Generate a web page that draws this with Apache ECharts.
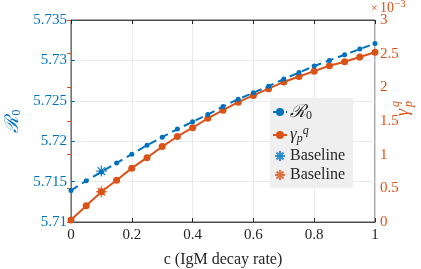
<!DOCTYPE html>
<html><head><meta charset="utf-8">
<script src="https://cdn.jsdelivr.net/npm/echarts@6/dist/echarts.min.js"></script>
<style>html,body{margin:0;padding:0;background:#fff}#c{width:421px;height:269px}</style>
</head><body><div id="c"></div>
<script>
var cValues = [0,0.05,0.1,0.15,0.2,0.25,0.3,0.35,0.4,0.45,0.5,0.55,0.6,0.65,0.7,0.75,0.8,0.85,0.9,0.95,1.0];
var r0Values = [5.7139,5.7151,5.7162,5.7173,5.7184,5.7195,5.7205,5.7215,5.7224,5.7233,5.7243,5.7252,5.7260,5.7268,5.7277,5.7285,5.7293,5.7300,5.7307,5.7314,5.7321];
// gamma_p^q in units of 1e-3
var gammaValues = [0.03,0.24,0.45,0.62,0.80,0.955,1.12,1.27,1.40,1.54,1.66,1.78,1.88,1.98,2.08,2.16,2.24,2.32,2.38,2.45,2.52];
var baselineC = 0.1;
var baselineR0 = 5.7163;
var baselineGamma = 0.45;
var xTicks = ['0','0.2','0.4','0.6','0.8','1'];
var leftTicks = ['5.71','5.715','5.72','5.725','5.73','5.735'];
var rightTicks = ['0','0.5','1','1.5','2','2.5','3'];

var BLUE = '#0072BD', ORANGE = '#D95319', DARK = '#262626';
var FONT = 'Liberation Serif';
var star = 'path://M0,-10L0,10M-10,0L10,0M-7,-7L7,7M-7,7L7,-7';

function zip(a,b){return a.map(function(v,i){return [v,b[i]];});}

var chart = echarts.init(document.getElementById('c'));
chart.setOption({
  animation:false,
  grid:{left:71,right:46,top:20,bottom:47,show:true,borderColor:DARK,borderWidth:0.8,outerBoundsMode:'none',containLabel:false},
  textStyle:{fontFamily:FONT},
  xAxis:[{
    type:'value',min:0,max:1,interval:0.2,
    name:'c (IgM decay rate)',nameLocation:'middle',nameGap:30,
    nameTextStyle:{color:DARK,fontSize:16,fontFamily:FONT},
    axisLine:{lineStyle:{color:DARK,width:0.8}},
    axisTick:{inside:true,length:4,lineStyle:{color:DARK}},
    axisLabel:{color:DARK,fontSize:15,fontFamily:FONT,margin:6,formatter:function(v){return xTicks[Math.round(v/0.2)];}},
    splitLine:{show:true,lineStyle:{color:'#e3e6ea',width:0.8}}
  },{
    type:'value',min:0,max:1,interval:0.2,position:'top',
    axisLine:{show:true,lineStyle:{color:DARK,width:0.8}},
    axisTick:{inside:true,length:4,lineStyle:{color:DARK}},
    axisLabel:{show:false},splitLine:{show:false}
  }],
  yAxis:[{
    type:'value',min:5.71,max:5.735,interval:0.005,position:'left',
    name:'{r|ℛ}{s|0}',nameLocation:'middle',nameGap:46,nameRotate:90,
    nameTextStyle:{color:BLUE,fontFamily:FONT,rich:{r:{fontSize:19,color:BLUE,fontFamily:'DejaVu Serif',fontStyle:'italic'},s:{fontSize:12,color:BLUE,verticalAlign:'bottom',padding:[7,0,0,0]}}},
    axisLine:{show:true,lineStyle:{color:BLUE,width:0.8}},
    axisTick:{show:true,inside:true,length:4,lineStyle:{color:BLUE}},
    axisLabel:{color:BLUE,fontSize:15,fontFamily:FONT,margin:4,formatter:function(v){return leftTicks[Math.round((v-5.71)/0.005)];}},
    splitLine:{show:true,lineStyle:{color:'#e3e6ea',width:0.8}}
  },{
    type:'value',min:0,max:3,interval:0.5,position:'right',
    axisLine:{show:true,lineStyle:{color:ORANGE,width:0.8}},
    axisTick:{show:true,inside:true,length:4,lineStyle:{color:ORANGE}},
    axisLabel:{color:ORANGE,fontSize:15,fontFamily:FONT,margin:5,formatter:function(v){return rightTicks[Math.round(v/0.5)];}},
    splitLine:{show:false}
  }],
  legend:{
    orient:'vertical',left:270,top:98,
    backgroundColor:'#efefef',padding:[5,8,5,2],itemGap:3,
    itemWidth:14,itemHeight:10,
    data:['R0','gamma','Baseline R0','Baseline gamma'],
    textStyle:{color:DARK,fontSize:16,fontFamily:FONT,padding:[0,0,0,-2],
      rich:{r:{fontSize:18,fontFamily:'DejaVu Serif',fontStyle:'italic',color:DARK},s:{fontSize:12,color:DARK,padding:[8,0,0,0]},
            g:{fontSize:17,fontStyle:'italic',fontFamily:FONT,color:DARK},p:{fontSize:12,fontStyle:'italic',fontFamily:FONT,color:DARK,padding:[8,0,0,0]},q:{fontSize:12,fontStyle:'italic',fontFamily:FONT,color:DARK,padding:[0,0,8,0]},
            b:{fontSize:16,fontFamily:FONT,color:DARK}}},
    formatter:function(n){
      if(n==='R0') return '{r|ℛ}{s|0}';
      if(n==='gamma') return '{g|γ}{p|p}{q|q}';
      return '{b|Baseline}';
    }
  },
  graphic:[{type:'text',left:371,top:3,style:{text:'×',fill:ORANGE,font:'12px '+FONT}},
           {type:'text',left:380,top:1,style:{text:'10',fill:ORANGE,font:'14px '+FONT}},
           {type:'text',left:394,top:-1,style:{text:'−3',fill:ORANGE,font:'11px '+FONT}},
           {type:'group',x:403,y:116,rotation:Math.PI/2,children:[
             {type:'text',x:0,y:0,style:{text:'γ',fill:ORANGE,font:'italic 18px '+FONT,textVerticalAlign:'middle'}},
             {type:'text',x:9,y:-7,style:{text:'q',fill:ORANGE,font:'italic 12px '+FONT,textVerticalAlign:'middle'}},
             {type:'text',x:9,y:6,style:{text:'p',fill:ORANGE,font:'italic 12px '+FONT,textVerticalAlign:'middle'}}
           ]}],
  series:[{
    name:'R0',type:'line',xAxisIndex:0,yAxisIndex:0,data:zip(cValues,r0Values),
    symbol:'circle',symbolSize:5,itemStyle:{color:BLUE},
    lineStyle:{color:BLUE,width:2,type:[8,5]},z:3
  },{
    name:'gamma',type:'line',xAxisIndex:0,yAxisIndex:1,data:zip(cValues,gammaValues),
    symbol:'circle',symbolSize:7,itemStyle:{color:ORANGE},
    lineStyle:{color:ORANGE,width:2},z:2
  },{
    name:'Baseline R0',type:'scatter',xAxisIndex:0,yAxisIndex:0,data:[[baselineC,baselineR0]],
    symbol:star,symbolSize:11,itemStyle:{color:'none',borderColor:BLUE,borderWidth:1.4},z:4
  },{
    name:'Baseline gamma',type:'scatter',xAxisIndex:0,yAxisIndex:1,data:[[baselineC,baselineGamma]],
    symbol:star,symbolSize:11,itemStyle:{color:'none',borderColor:ORANGE,borderWidth:1.4},z:4
  }]
});
</script></body></html>
